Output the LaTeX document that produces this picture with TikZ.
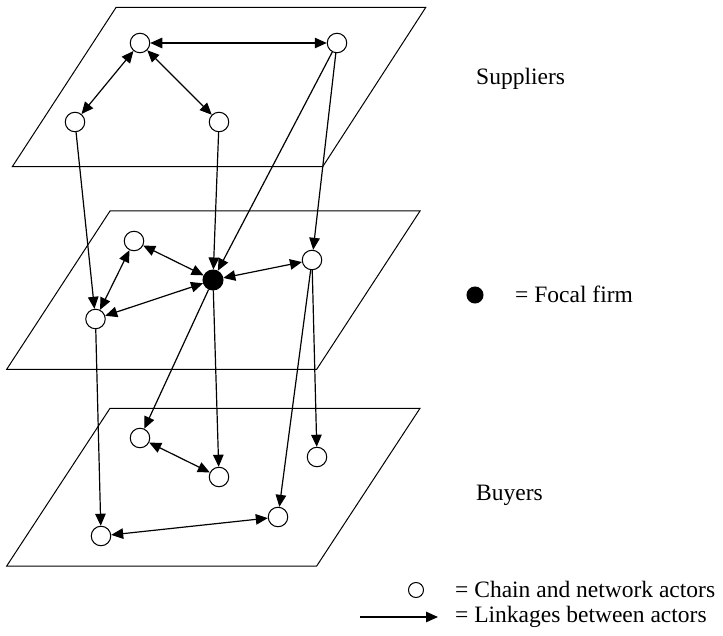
\documentclass[tikz,border=0pt]{standalone}
\usepackage{fontspec}
\setmainfont{Liberation Serif}
\usetikzlibrary{arrows.meta}
\begin{document}
\begin{tikzpicture}[x=1pt,y=-1pt,
  actor/.style={circle,draw,fill=white,line width=1pt,minimum size=19.5pt,inner sep=0pt},
  focal/.style={circle,draw,fill=black,line width=1pt,minimum size=20pt,inner sep=0pt},
  plane/.style={draw,line width=1pt,line join=miter},
  tip/.tip={Triangle[length=12pt,width=10.5pt]},
  link/.style={line width=1.2pt,-tip},
  blink/.style={line width=1.2pt,tip-tip},
  lbl/.style={anchor=base west,inner sep=0pt,font=\fontsize{23.5}{28}\selectfont}]
\useasboundingbox (0,0) rectangle (723,636);

% planes
\draw[plane] (116,7.5) -- (425.7,7.5) -- (322.7,166.7) -- (12.3,166.7) -- cycle;
\draw[plane] (110,211) -- (420,211) -- (316.7,369.3) -- (6.7,369.3) -- cycle;
\draw[plane] (110,408.3) -- (420,408.3) -- (316.7,566) -- (6.7,566) -- cycle;

% suppliers
\node[actor] (A) at (140,43) {};
\node[actor] (B) at (337,43) {};
\node[actor] (C) at (75,122) {};
\node[actor] (D) at (219,122) {};
% focal layer
\node[actor] (E) at (134,241) {};
\node[focal] (F) at (213,280) {};
\node[actor] (G) at (312,260) {};
\node[actor] (H) at (95.5,319) {};
% buyers
\node[actor] (I) at (140,438) {};
\node[actor] (J) at (219,477) {};
\node[actor] (K) at (317,457) {};
\node[actor] (L) at (278,517) {};
\node[actor] (M) at (101,536) {};

% links
\draw[blink] (A) -- (B);
\draw[blink] (A) -- (C);
\draw[blink] (A) -- (D);
\draw[link] (B) -- (F);
\draw[link] (B) -- (G);
\draw[link] (C) -- (H);
\draw[link] (D) -- (F);
\draw[blink] (E) -- (H);
\draw[blink] (E) -- (F);
\draw[blink] (F) -- (H);
\draw[blink] (F) -- (G);
\draw[link] (F) -- (I);
\draw[link] (F) -- (J);
\draw[link] (G) -- (L);
\draw[link] (G) -- (K);
\draw[link] (H) -- (M);
\draw[blink] (I) -- (J);
\draw[blink] (M) -- (L);

% labels
\node[lbl] (sup) at (476,85) {Suppliers};
\node[lbl] (buy) at (476,500) {Buyers};
\node[focal,minimum size=16pt] (legF) at (475,295) {};
\node[lbl] (legFt) at (515,303) {= Focal firm};
\node[actor,minimum size=15pt] (legA) at (416,590) {};
\node[lbl] (legAt) at (455,597) {= Chain and network actors};
\coordinate (ls) at (360,617);
\coordinate (le) at (438,617);
\draw[link] (ls) -- (le);
\node[lbl] (legLt) at (455,622) {= Linkages between actors};
\end{tikzpicture}
\end{document}
